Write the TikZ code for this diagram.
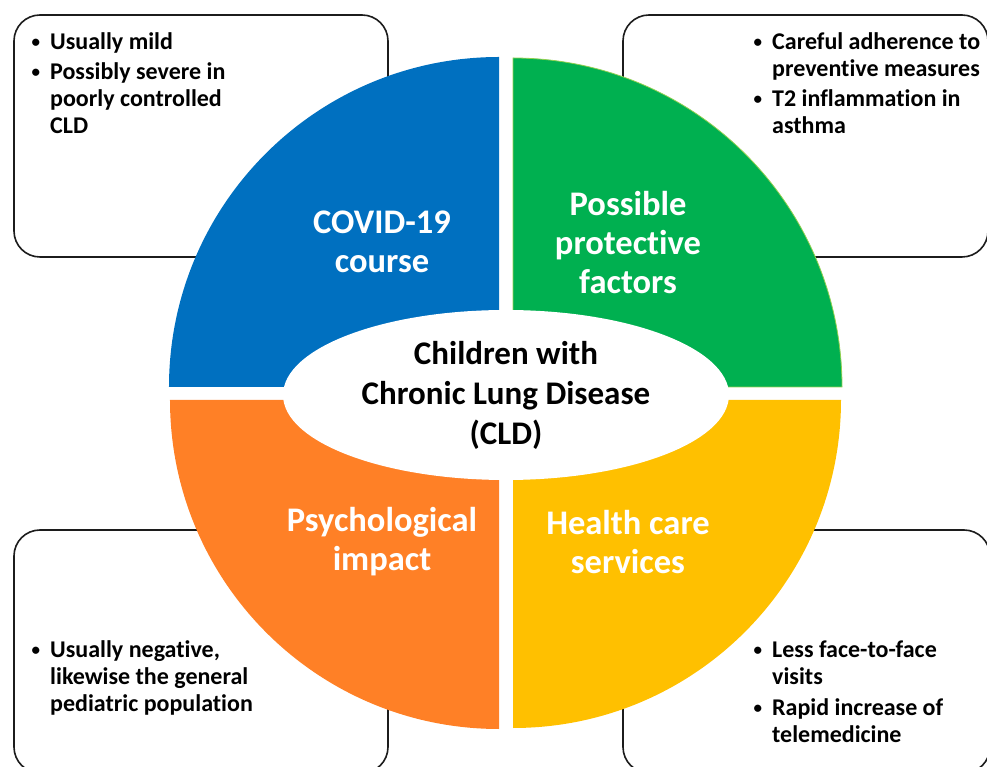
\documentclass[tikz,border=0pt]{standalone}
\usepackage{fontspec}
\setmainfont{Carlito}[Ligatures=NoCommon]
\usetikzlibrary{positioning}
\definecolor{covid}{RGB}{0,112,192}
\definecolor{protect}{RGB}{0,176,80}
\definecolor{protectedge}{RGB}{146,208,80}
\definecolor{psycho}{RGB}{255,128,38}
\definecolor{health}{RGB}{255,192,0}
\definecolor{ink}{RGB}{0,0,0}
\definecolor{frame}{RGB}{28,28,28}

% puce suspendue devant la ligne
\newcommand{\puce}{\llap{\raisebox{2pt}{\fontsize{17}{17}\selectfont\textbullet}\hspace{10pt}}}

\begin{document}
\begin{tikzpicture}[x=1pt, y=1pt,
    boite/.style={draw=frame, line width=1.6pt, rounded corners=26pt},
    puces/.style={anchor=north west, inner sep=0pt, align=left, text=ink,
      font=\fontsize{24}{27}\selectfont\bfseries},
    quart/.style={text=white, align=center, inner sep=0pt,
      font=\fontsize{34.5}{39}\selectfont\bfseries}]
        \useasboundingbox (-506,-374) rectangle (481,393);
        \clip (-506,-374) rectangle (481,393);

        % cadres
        \draw[boite] (-492,136) rectangle (-118,378);
        \draw[boite] (117,136) rectangle (482,378);
        \draw[boite] (-492,-380) rectangle (-118,-137);
        \draw[boite] (117,-380) rectangle (484,-137);

        % quarts de disque
        \fill[covid] (-7,6) -- ++(-330,0) arc[start angle=180, end angle=90, radius=330] -- cycle;
        \filldraw[protect, draw=protectedge, line width=0.8pt] (7,6) -- ++(0,329) arc[start angle=90, end angle=0, radius=329] -- cycle;
        \fill[psycho] (-7,-7) -- ++(0,-329) arc[start angle=270, end angle=180, radius=329] -- cycle;
        \fill[health] (7,-7) -- ++(328,0) arc[start angle=0, end angle=-90, radius=328] -- cycle;

        % ellipse centrale
        \fill[white] (0,-2) ellipse[x radius=223, y radius=85];

        % titres des quarts
        \node[quart] (covidlbl) at (-124,151) {COVID-19\\course};
        \node[quart] (protectlbl) at (122,150) {Possible\\protective\\factors};
        \node[quart] (psycholbl) at (-124,-149) {Psychological\\impact};
        \node[quart] (healthlbl) at (122,-149) {Health care\\services};

        \node[align=center, inner sep=0pt, text=ink, font=\fontsize{33}{40}\selectfont\bfseries]
          (cld) at (0,-2) {Children with\\Chronic Lung Disease\\(CLD)};

        % listes
        \node[puces] (covidlist) at (-456,361)
          {\puce Usually mild\\[3pt]\puce Possibly severe in\\poorly controlled\\CLD};
        \node[puces] (protectlist) at (266,361)
          {\puce Careful adherence to\\preventive measures\\[3pt]\puce T2 inflammation in\\asthma};
        \node[puces] (psycholist) at (-456,-247)
          {\puce Usually negative,\\likewise the general\\pediatric population};
        \node[puces] (healthlist) at (266,-248)
          {\puce Less face-to-face\\visits\\[4pt]\puce Rapid increase of\\telemedicine};
      \end{tikzpicture}
\end{document}
